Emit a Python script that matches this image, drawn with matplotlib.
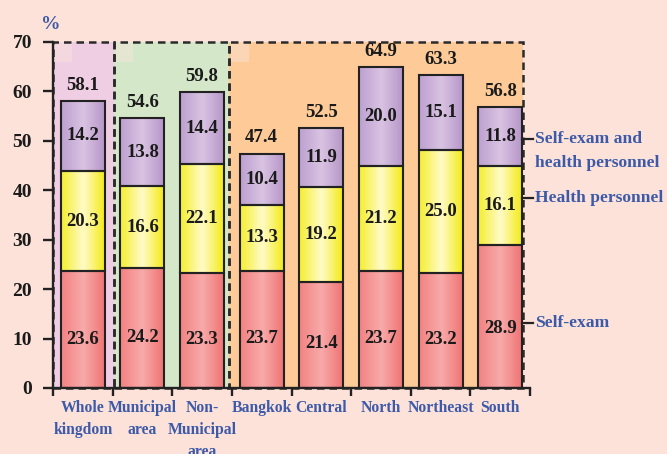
import numpy as np
import matplotlib
matplotlib.use("Agg")
import matplotlib.pyplot as plt
from matplotlib.colors import LinearSegmentedColormap
from matplotlib.patches import Rectangle

categories = ["Whole\nkingdom", "Municipal\narea", "Non-\nMunicipal\narea", "Bangkok",
              "Central", "North", "Northeast", "South"]
self_exam = [23.6, 24.2, 23.3, 23.7, 21.4, 23.7, 23.2, 28.9]
health_personnel = [20.3, 16.6, 22.1, 13.3, 19.2, 21.2, 25.0, 16.1]
both = [14.2, 13.8, 14.4, 10.4, 11.9, 20.0, 15.1, 11.8]
totals = [58.1, 54.6, 59.8, 47.4, 52.5, 64.9, 63.3, 56.8]
yticks = [0, 10, 20, 30, 40, 50, 60, 70]

BG = "#fde2d9"
BLUE = "#3d5aa8"
FONT = "Liberation Serif"

fig = plt.figure(figsize=(6.67, 4.54), dpi=100, facecolor=BG)
ax = fig.add_axes([53/667, 1-388/454, 477/667, 346/454])
ax.set_facecolor(BG)
ax.set_xlim(-0.5, 7.5)
ax.set_ylim(0, 70)

# group shaded regions
groups = [(-0.5, 0.53, "#efcde2"), (0.53, 2.46, "#d4e7c8"), (2.46, 7.39, "#fdca98")]
for x0, x1, c in groups:
    ax.add_patch(Rectangle((x0, 0), x1 - x0, 70, facecolor=c, edgecolor="none", zorder=0))
    ax.add_patch(Rectangle((x0 + 0.02, 66.0), 0.3, 4.0, facecolor="#f8e6df", alpha=0.45,
                           edgecolor="none", zorder=0.5))
    ax.add_patch(Rectangle((x0, 0), x1 - x0, 70, facecolor="none", edgecolor="#2a2a2a",
                           linestyle=(0, (3, 2)), linewidth=1.8, zorder=1, clip_on=False))

def grad_cmap(edge_l, center, edge_r):
    return LinearSegmentedColormap.from_list("g", [edge_l, center, edge_r])

cm_red = grad_cmap("#f28282", "#f8aaaa", "#ef7272")
cm_yel = grad_cmap("#f5ee30", "#fffbc8", "#f3ea10")
cm_pur = grad_cmap("#bda0d0", "#d9c3e2", "#b595c8")
grad = np.linspace(0, 1, 64).reshape(1, -1)

bw = 0.74
x = np.arange(len(categories))
for i in range(len(categories)):
    segs = [(0, self_exam[i], cm_red),
            (self_exam[i], self_exam[i] + health_personnel[i], cm_yel),
            (self_exam[i] + health_personnel[i], totals[i], cm_pur)]
    for b, t, cm in segs:
        ax.imshow(grad, cmap=cm, aspect="auto", extent=(x[i]-bw/2, x[i]+bw/2, b, t),
                  zorder=2, interpolation="bicubic")
        ax.add_patch(Rectangle((x[i]-bw/2, b), bw, t - b, facecolor="none",
                               edgecolor="#222222", linewidth=1.5, zorder=3))
    kw = dict(ha="center", va="center", fontsize=13.5, fontweight="bold", family=FONT,
              color="#1a1a1a", zorder=4)
    ax.text(x[i], self_exam[i] * 0.42, f"{self_exam[i]:.1f}", **kw)
    ax.text(x[i], self_exam[i] + health_personnel[i] / 2, f"{health_personnel[i]:.1f}", **kw)
    ax.text(x[i], self_exam[i] + health_personnel[i] + both[i] / 2, f"{both[i]:.1f}", **kw)
    ax.text(x[i], totals[i] + 3.2, f"{totals[i]:.1f}", **kw)

ax.set_xlim(-0.5, 7.5)
ax.set_ylim(0, 70)

for s in ["top", "right"]:
    ax.spines[s].set_visible(False)
for s in ["left", "bottom"]:
    ax.spines[s].set_linewidth(1.7)
    ax.spines[s].set_color("#222222")
    ax.spines[s].set_zorder(5)

ax.set_yticks(yticks)
ax.set_yticklabels([str(v) for v in yticks], fontsize=14, fontweight="bold", family=FONT,
                   color="#1a1a1a")
ax.tick_params(axis="y", length=7, width=1.7, color="#222222", pad=8)

ax.set_xticks(x)
ax.set_xticklabels(categories, fontsize=11.3, fontweight="bold", family=FONT, color=BLUE,
                   linespacing=1.5, va="top")
ax.tick_params(axis="x", which="major", length=0, pad=9)
ax.set_xticks(np.arange(-0.5, 8, 1), minor=True)
ax.tick_params(axis="x", which="minor", length=6, width=1.7, color="#222222")

ax.text(-0.53, 73.6, "%", ha="center", va="center", fontsize=14, fontweight="bold",
        family=FONT, color=BLUE, clip_on=False)

# right-side labels
lab = dict(ha="left", va="center", fontsize=12.6, fontweight="bold", family=FONT, color=BLUE,
           clip_on=False)
for yv, txt in [(50.4, "Self-exam and"), (38.4, "Health personnel"), (13.1, "Self-exam")]:
    ax.plot([7.36, 7.55], [yv, yv], color="#222222", lw=1.6, clip_on=False, zorder=6)
    ax.text(7.58, yv, txt, **lab)
ax.text(7.58, 45.5, "health personnel", **lab)

fig.savefig("out.png", dpi=100, facecolor=BG)
